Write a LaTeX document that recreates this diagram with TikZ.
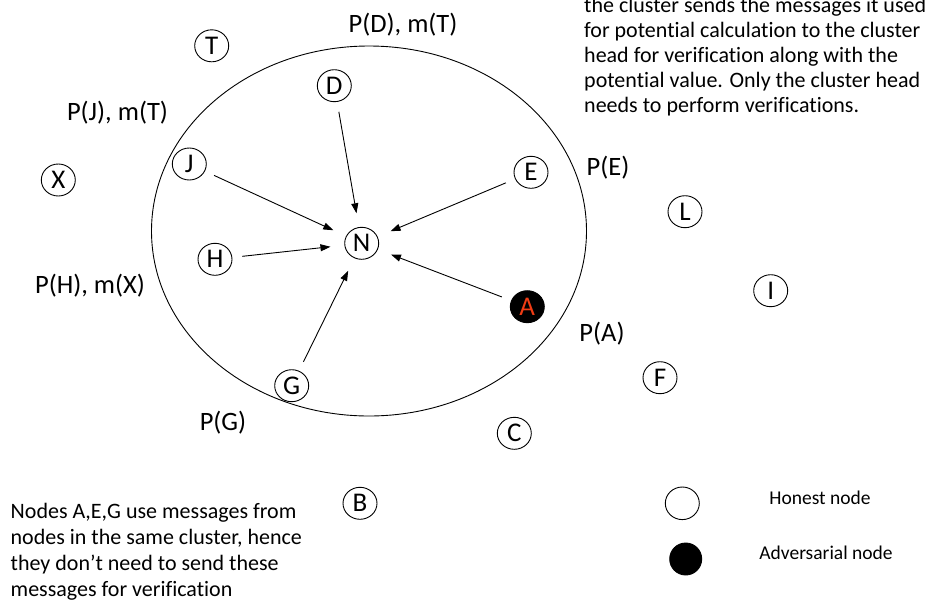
\documentclass[tikz,border=0pt]{standalone}
\usepackage{fontspec}
\setmainfont{Carlito}[Ligatures=NoCommon]
\usetikzlibrary{arrows.meta,shapes.geometric}

\definecolor{advred}{RGB}{240,60,20}

\tikzset{
  peer/.style={draw, ellipse, line width=0.9pt, minimum width=34pt, minimum height=32pt,
               inner sep=0pt, font=\fontsize{27}{30}\selectfont},
  advpeer/.style={peer, fill=black, text=advred},
  msg/.style={font=\fontsize{26.5}{30}\selectfont, inner sep=0pt, anchor=base},
  note/.style={font=\fontsize{22}{26}\selectfont, inner sep=0pt, anchor=base west},
  legendtext/.style={font=\fontsize{19.5}{23}\selectfont, inner sep=0pt, anchor=base},
  flow/.style={-{Triangle[length=10pt,width=7pt]}, line width=0.9pt,
               shorten <=10pt, shorten >=14pt}
}

\begin{document}
\begin{tikzpicture}[x=1pt,y=-1pt]
  \clip (0,0) rectangle (943,603);
  \fill[white] (0,0) rectangle (943,603);

  % cluster boundary
  \draw[line width=0.9pt] (369,231) ellipse [x radius=217.5, y radius=185];

  % nodes inside the cluster
  \node[peer] (N) at (361.7,243.3) {N};
  \node[peer] (D) at (334.3,85.7) {D};
  \node[peer] (J) at (189.3,164) {J};
  \node[peer] (E) at (531,172.3) {E};
  \node[peer] (H) at (215,259.3) {H};
  \node[advpeer] (A) at (527.3,306.7) {A};
  \node[peer] (G) at (291.7,385.7) {G};

  % nodes outside the cluster
  \node[peer] (T) at (211.7,45.8) {T};
  \node[peer] (X) at (58.3,180) {X};
  \node[peer] (L) at (685,211.7) {L};
  \node[peer] (I) at (770.7,290.7) {I};
  \node[peer] (F) at (660,377.7) {F};
  \node[peer] (C) at (514.3,433.3) {C};
  \node[peer] (B) at (360,503.3) {B};

  % messages sent to the cluster head
  \foreach \src in {D,J,E,H,A,G}
    \draw[flow] (\src) -- (N);

  % potential / message labels
  \node[msg] (lD) at (403,32.7) {P(D), m(T)};
  \node[msg] (lJ) at (117.5,120) {P(J), m(T)};
  \node[msg] (lE) at (608,175) {P(E)};
  \node[msg] (lH) at (90,293.3) {P(H), m(X)};
  \node[msg] (lA) at (602,341) {P(A)};
  \node[msg] (lG) at (223,430) {P(G)};

  % explanatory notes
  \foreach \t [count=\i from 0] in {
      {the cluster sends the messages it used},
      {for potential calculation to the cluster},
      {head for verification along with the},
      {potential value. Only the cluster head},
      {needs to perform verifications.}}
    \node[note] (top-\i) at (584,12.5+25*\i) {\t};

  \foreach \t [count=\i from 0] in {
      {Nodes A,E,G use messages from},
      {nodes in the same cluster, hence},
      {they don’t need to send these},
      {messages for verification}}
    \node[note] (bot-\i) at (10.5,518.3+26.1*\i) {\t};

  % legend
  \node[peer, minimum width=34pt, minimum height=32.6pt] (legH) at (682.3,503.3) {};
  \node[peer, fill=black, minimum width=32pt, minimum height=32pt] (legA) at (685.7,559) {};
  \node[legendtext] (legHt) at (820,504) {Honest node};
  \node[legendtext] (legAt) at (826,559) {Adversarial node};
\end{tikzpicture}
\end{document}
